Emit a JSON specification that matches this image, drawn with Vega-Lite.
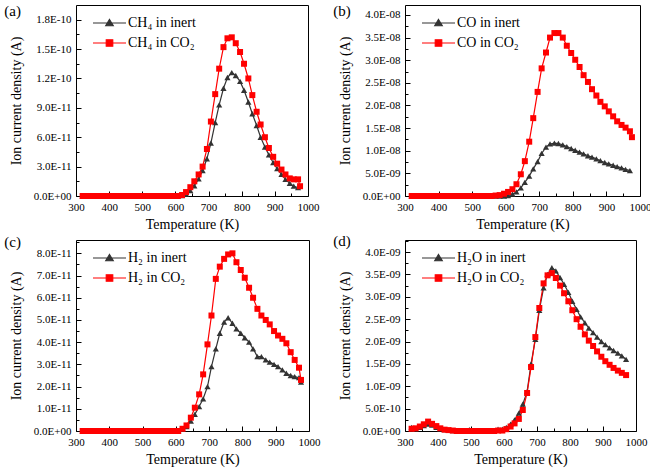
{
  "$schema": "https://vega.github.io/schema/vega-lite/v6.json",
  "padding": {"left": 3, "top": 3, "right": 5, "bottom": 5},
  "background": "white",
  "columns": 2,
  "spacing": {"row": 1, "column": 11},
  "resolve": {"scale": {"color": "independent", "x": "independent", "y": "independent"}, "legend": {"color": "independent"}},
  "config": {
    "font": "Liberation Serif",
    "style": {"guide-label": {"font": "Liberation Serif"}, "guide-title": {"font": "Liberation Serif", "fontWeight": "normal"}},
    "view": {"stroke": "#000000", "strokeWidth": 1},
    "axis": {"grid": false, "domain": false, "tickColor": "#000000", "labelColor": "#000000", "titleColor": "#000000", "labelFont": "Liberation Serif", "titleFont": "Liberation Serif", "labelFontSize": 11, "titleFontSize": 14, "titleFontWeight": "normal", "labelOverlap": false, "labelFlush": false},
    "title": {"anchor": "start", "frame": "bounds", "offset": -14, "dx": -5, "fontSize": 15, "fontWeight": "normal", "font": "Liberation Serif", "color": "#000000"},
    "legend": {"orient": "top-left", "offset": 11, "title": null, "labelFontSize": 14, "labelFont": "Liberation Serif", "labelColor": "#000000", "symbolSize": 100, "rowPadding": 6, "labelOffset": 27}
  },
  "datasets": {
    "a": [
      {"s":"inert","T":320,"v":0},{"s":"inert","T":332,"v":0},{"s":"inert","T":345,"v":0},{"s":"inert","T":357,"v":0},{"s":"inert","T":370,"v":0},{"s":"inert","T":382,"v":0},{"s":"inert","T":395,"v":0},{"s":"inert","T":407,"v":0},{"s":"inert","T":420,"v":0},{"s":"inert","T":432,"v":0},{"s":"inert","T":445,"v":0},{"s":"inert","T":457,"v":0},{"s":"inert","T":470,"v":0},{"s":"inert","T":482,"v":0},{"s":"inert","T":495,"v":0},{"s":"inert","T":507,"v":0},{"s":"inert","T":520,"v":0},{"s":"inert","T":532,"v":0},{"s":"inert","T":545,"v":0},{"s":"inert","T":557,"v":0},{"s":"inert","T":570,"v":0},{"s":"inert","T":582,"v":0},{"s":"inert","T":595,"v":0},{"s":"inert","T":607,"v":0},{"s":"inert","T":620,"v":5e-13},{"s":"inert","T":632,"v":2e-12},{"s":"inert","T":645,"v":5.5e-12},{"s":"inert","T":657,"v":1.05e-11},{"s":"inert","T":670,"v":1.75e-11},{"s":"inert","T":682,"v":2.6e-11},{"s":"inert","T":695,"v":3.8e-11},{"s":"inert","T":707,"v":5.4e-11},{"s":"inert","T":720,"v":7.5e-11},{"s":"inert","T":732,"v":9.3e-11},{"s":"inert","T":745,"v":1.1e-10},{"s":"inert","T":757,"v":1.21e-10},{"s":"inert","T":770,"v":1.26e-10},{"s":"inert","T":782,"v":1.23e-10},{"s":"inert","T":795,"v":1.17e-10},{"s":"inert","T":807,"v":1.08e-10},{"s":"inert","T":820,"v":9.6e-11},{"s":"inert","T":832,"v":8.4e-11},{"s":"inert","T":845,"v":7.2e-11},{"s":"inert","T":857,"v":6.0e-11},{"s":"inert","T":870,"v":5.0e-11},{"s":"inert","T":882,"v":4.2e-11},{"s":"inert","T":895,"v":3.4e-11},{"s":"inert","T":907,"v":2.8e-11},{"s":"inert","T":920,"v":2.2e-11},{"s":"inert","T":932,"v":1.7e-11},{"s":"inert","T":945,"v":1.3e-11},{"s":"inert","T":957,"v":1.0e-11},{"s":"inert","T":970,"v":8.5e-12},
      {"s":"CO2","T":320,"v":0},{"s":"CO2","T":332,"v":0},{"s":"CO2","T":345,"v":0},{"s":"CO2","T":357,"v":0},{"s":"CO2","T":370,"v":0},{"s":"CO2","T":382,"v":0},{"s":"CO2","T":395,"v":0},{"s":"CO2","T":407,"v":0},{"s":"CO2","T":420,"v":0},{"s":"CO2","T":432,"v":0},{"s":"CO2","T":445,"v":0},{"s":"CO2","T":457,"v":0},{"s":"CO2","T":470,"v":0},{"s":"CO2","T":482,"v":0},{"s":"CO2","T":495,"v":0},{"s":"CO2","T":507,"v":0},{"s":"CO2","T":520,"v":0},{"s":"CO2","T":532,"v":0},{"s":"CO2","T":545,"v":0},{"s":"CO2","T":557,"v":0},{"s":"CO2","T":570,"v":0},{"s":"CO2","T":582,"v":0},{"s":"CO2","T":595,"v":0},{"s":"CO2","T":607,"v":0},{"s":"CO2","T":620,"v":1e-12},{"s":"CO2","T":632,"v":4e-12},{"s":"CO2","T":645,"v":9e-12},{"s":"CO2","T":657,"v":1.5e-11},{"s":"CO2","T":670,"v":2.2e-11},{"s":"CO2","T":682,"v":3.0e-11},{"s":"CO2","T":695,"v":4.8e-11},{"s":"CO2","T":707,"v":7.6e-11},{"s":"CO2","T":720,"v":1.04e-10},{"s":"CO2","T":732,"v":1.3e-10},{"s":"CO2","T":745,"v":1.52e-10},{"s":"CO2","T":757,"v":1.61e-10},{"s":"CO2","T":770,"v":1.62e-10},{"s":"CO2","T":782,"v":1.56e-10},{"s":"CO2","T":795,"v":1.47e-10},{"s":"CO2","T":807,"v":1.35e-10},{"s":"CO2","T":820,"v":1.2e-10},{"s":"CO2","T":832,"v":1.03e-10},{"s":"CO2","T":845,"v":8.6e-11},{"s":"CO2","T":857,"v":7.3e-11},{"s":"CO2","T":870,"v":6.0e-11},{"s":"CO2","T":882,"v":4.9e-11},{"s":"CO2","T":895,"v":4.0e-11},{"s":"CO2","T":907,"v":3.3e-11},{"s":"CO2","T":920,"v":2.7e-11},{"s":"CO2","T":932,"v":2.2e-11},{"s":"CO2","T":945,"v":1.8e-11},{"s":"CO2","T":957,"v":1.7e-11},{"s":"CO2","T":970,"v":1.7e-11},{"s":"CO2","T":976,"v":1.0e-11}
    ],
    "b": [
      {"s":"inert","T":320,"v":0},{"s":"inert","T":332,"v":0},{"s":"inert","T":345,"v":0},{"s":"inert","T":357,"v":0},{"s":"inert","T":370,"v":0},{"s":"inert","T":382,"v":0},{"s":"inert","T":395,"v":0},{"s":"inert","T":407,"v":0},{"s":"inert","T":420,"v":0},{"s":"inert","T":432,"v":0},{"s":"inert","T":445,"v":0},{"s":"inert","T":457,"v":0},{"s":"inert","T":470,"v":0},{"s":"inert","T":482,"v":0},{"s":"inert","T":495,"v":0},{"s":"inert","T":507,"v":0},{"s":"inert","T":520,"v":0},{"s":"inert","T":532,"v":0},{"s":"inert","T":545,"v":0},{"s":"inert","T":557,"v":0},{"s":"inert","T":570,"v":0},{"s":"inert","T":582,"v":0},{"s":"inert","T":595,"v":0},{"s":"inert","T":607,"v":1e-10},{"s":"inert","T":620,"v":4e-10},{"s":"inert","T":632,"v":9e-10},{"s":"inert","T":645,"v":1.8e-9},{"s":"inert","T":657,"v":3.0e-9},{"s":"inert","T":670,"v":4.4e-9},{"s":"inert","T":682,"v":6.0e-9},{"s":"inert","T":695,"v":7.6e-9},{"s":"inert","T":707,"v":9.4e-9},{"s":"inert","T":720,"v":1.08e-8},{"s":"inert","T":732,"v":1.15e-8},{"s":"inert","T":745,"v":1.17e-8},{"s":"inert","T":757,"v":1.16e-8},{"s":"inert","T":770,"v":1.13e-8},{"s":"inert","T":782,"v":1.09e-8},{"s":"inert","T":795,"v":1.05e-8},{"s":"inert","T":807,"v":1.01e-8},{"s":"inert","T":820,"v":9.7e-9},{"s":"inert","T":832,"v":9.3e-9},{"s":"inert","T":845,"v":8.9e-9},{"s":"inert","T":857,"v":8.6e-9},{"s":"inert","T":870,"v":8.2e-9},{"s":"inert","T":882,"v":7.8e-9},{"s":"inert","T":895,"v":7.4e-9},{"s":"inert","T":907,"v":7.1e-9},{"s":"inert","T":920,"v":6.8e-9},{"s":"inert","T":932,"v":6.5e-9},{"s":"inert","T":945,"v":6.2e-9},{"s":"inert","T":957,"v":5.9e-9},{"s":"inert","T":970,"v":5.6e-9},
      {"s":"CO2","T":320,"v":0},{"s":"CO2","T":332,"v":0},{"s":"CO2","T":345,"v":0},{"s":"CO2","T":357,"v":0},{"s":"CO2","T":370,"v":0},{"s":"CO2","T":382,"v":0},{"s":"CO2","T":395,"v":0},{"s":"CO2","T":407,"v":0},{"s":"CO2","T":420,"v":0},{"s":"CO2","T":432,"v":0},{"s":"CO2","T":445,"v":0},{"s":"CO2","T":457,"v":0},{"s":"CO2","T":470,"v":0},{"s":"CO2","T":482,"v":0},{"s":"CO2","T":495,"v":0},{"s":"CO2","T":507,"v":0},{"s":"CO2","T":520,"v":0},{"s":"CO2","T":532,"v":0},{"s":"CO2","T":545,"v":0},{"s":"CO2","T":557,"v":0},{"s":"CO2","T":570,"v":1e-10},{"s":"CO2","T":582,"v":2e-10},{"s":"CO2","T":595,"v":5e-10},{"s":"CO2","T":607,"v":9e-10},{"s":"CO2","T":620,"v":1.5e-9},{"s":"CO2","T":632,"v":2.6e-9},{"s":"CO2","T":645,"v":4.8e-9},{"s":"CO2","T":657,"v":7.7e-9},{"s":"CO2","T":670,"v":1.2e-8},{"s":"CO2","T":682,"v":1.72e-8},{"s":"CO2","T":695,"v":2.3e-8},{"s":"CO2","T":707,"v":2.82e-8},{"s":"CO2","T":720,"v":3.17e-8},{"s":"CO2","T":732,"v":3.5e-8},{"s":"CO2","T":745,"v":3.6e-8},{"s":"CO2","T":757,"v":3.6e-8},{"s":"CO2","T":770,"v":3.5e-8},{"s":"CO2","T":782,"v":3.32e-8},{"s":"CO2","T":795,"v":3.16e-8},{"s":"CO2","T":807,"v":3.01e-8},{"s":"CO2","T":820,"v":2.85e-8},{"s":"CO2","T":832,"v":2.67e-8},{"s":"CO2","T":845,"v":2.52e-8},{"s":"CO2","T":857,"v":2.36e-8},{"s":"CO2","T":870,"v":2.22e-8},{"s":"CO2","T":882,"v":2.08e-8},{"s":"CO2","T":895,"v":1.98e-8},{"s":"CO2","T":907,"v":1.87e-8},{"s":"CO2","T":920,"v":1.76e-8},{"s":"CO2","T":932,"v":1.65e-8},{"s":"CO2","T":945,"v":1.57e-8},{"s":"CO2","T":957,"v":1.51e-8},{"s":"CO2","T":970,"v":1.43e-8},{"s":"CO2","T":976,"v":1.3e-8}
    ],
    "c": [
      {"s":"inert","T":320,"v":0},{"s":"inert","T":332,"v":0},{"s":"inert","T":345,"v":0},{"s":"inert","T":357,"v":0},{"s":"inert","T":370,"v":0},{"s":"inert","T":382,"v":0},{"s":"inert","T":395,"v":0},{"s":"inert","T":407,"v":0},{"s":"inert","T":420,"v":0},{"s":"inert","T":432,"v":0},{"s":"inert","T":445,"v":0},{"s":"inert","T":457,"v":0},{"s":"inert","T":470,"v":0},{"s":"inert","T":482,"v":0},{"s":"inert","T":495,"v":0},{"s":"inert","T":507,"v":0},{"s":"inert","T":520,"v":0},{"s":"inert","T":532,"v":0},{"s":"inert","T":545,"v":0},{"s":"inert","T":557,"v":0},{"s":"inert","T":570,"v":0},{"s":"inert","T":582,"v":0},{"s":"inert","T":595,"v":0},{"s":"inert","T":607,"v":0},{"s":"inert","T":620,"v":1e-12},{"s":"inert","T":632,"v":2e-12},{"s":"inert","T":645,"v":4.5e-12},{"s":"inert","T":657,"v":7.5e-12},{"s":"inert","T":670,"v":1.1e-11},{"s":"inert","T":682,"v":1.45e-11},{"s":"inert","T":695,"v":2.0e-11},{"s":"inert","T":707,"v":2.9e-11},{"s":"inert","T":720,"v":3.7e-11},{"s":"inert","T":732,"v":4.4e-11},{"s":"inert","T":745,"v":4.9e-11},{"s":"inert","T":757,"v":5.1e-11},{"s":"inert","T":770,"v":4.85e-11},{"s":"inert","T":782,"v":4.6e-11},{"s":"inert","T":795,"v":4.4e-11},{"s":"inert","T":807,"v":4.2e-11},{"s":"inert","T":820,"v":4.0e-11},{"s":"inert","T":832,"v":3.7e-11},{"s":"inert","T":845,"v":3.35e-11},{"s":"inert","T":857,"v":3.35e-11},{"s":"inert","T":870,"v":3.2e-11},{"s":"inert","T":882,"v":3.1e-11},{"s":"inert","T":895,"v":3.0e-11},{"s":"inert","T":907,"v":2.9e-11},{"s":"inert","T":920,"v":2.75e-11},{"s":"inert","T":932,"v":2.6e-11},{"s":"inert","T":945,"v":2.5e-11},{"s":"inert","T":957,"v":2.45e-11},{"s":"inert","T":970,"v":2.4e-11},{"s":"inert","T":976,"v":2.2e-11},
      {"s":"CO2","T":320,"v":0},{"s":"CO2","T":332,"v":0},{"s":"CO2","T":345,"v":0},{"s":"CO2","T":357,"v":0},{"s":"CO2","T":370,"v":0},{"s":"CO2","T":382,"v":0},{"s":"CO2","T":395,"v":0},{"s":"CO2","T":407,"v":0},{"s":"CO2","T":420,"v":0},{"s":"CO2","T":432,"v":0},{"s":"CO2","T":445,"v":0},{"s":"CO2","T":457,"v":0},{"s":"CO2","T":470,"v":0},{"s":"CO2","T":482,"v":0},{"s":"CO2","T":495,"v":0},{"s":"CO2","T":507,"v":0},{"s":"CO2","T":520,"v":0},{"s":"CO2","T":532,"v":0},{"s":"CO2","T":545,"v":0},{"s":"CO2","T":557,"v":0},{"s":"CO2","T":570,"v":0},{"s":"CO2","T":582,"v":0},{"s":"CO2","T":595,"v":0},{"s":"CO2","T":607,"v":0},{"s":"CO2","T":620,"v":1e-12},{"s":"CO2","T":632,"v":2.5e-12},{"s":"CO2","T":645,"v":6e-12},{"s":"CO2","T":657,"v":1.05e-11},{"s":"CO2","T":670,"v":1.65e-11},{"s":"CO2","T":682,"v":2.55e-11},{"s":"CO2","T":695,"v":3.9e-11},{"s":"CO2","T":707,"v":5.2e-11},{"s":"CO2","T":720,"v":6.85e-11},{"s":"CO2","T":732,"v":7.4e-11},{"s":"CO2","T":745,"v":7.75e-11},{"s":"CO2","T":757,"v":7.95e-11},{"s":"CO2","T":770,"v":8.0e-11},{"s":"CO2","T":782,"v":7.6e-11},{"s":"CO2","T":795,"v":7.25e-11},{"s":"CO2","T":807,"v":6.9e-11},{"s":"CO2","T":820,"v":6.45e-11},{"s":"CO2","T":832,"v":6.0e-11},{"s":"CO2","T":845,"v":5.5e-11},{"s":"CO2","T":857,"v":5.2e-11},{"s":"CO2","T":870,"v":5.0e-11},{"s":"CO2","T":882,"v":4.8e-11},{"s":"CO2","T":895,"v":4.5e-11},{"s":"CO2","T":907,"v":4.3e-11},{"s":"CO2","T":920,"v":4.15e-11},{"s":"CO2","T":932,"v":3.95e-11},{"s":"CO2","T":945,"v":3.55e-11},{"s":"CO2","T":957,"v":3.2e-11},{"s":"CO2","T":970,"v":2.85e-11},{"s":"CO2","T":976,"v":2.3e-11}
    ],
    "d": [
      {"s":"inert","T":320,"v":8e-11},{"s":"inert","T":332,"v":5e-11},{"s":"inert","T":345,"v":8e-11},{"s":"inert","T":357,"v":1.2e-10},{"s":"inert","T":370,"v":1.55e-10},{"s":"inert","T":382,"v":1.3e-10},{"s":"inert","T":395,"v":8e-11},{"s":"inert","T":407,"v":5e-11},{"s":"inert","T":420,"v":3e-11},{"s":"inert","T":432,"v":2e-11},{"s":"inert","T":445,"v":1e-11},{"s":"inert","T":457,"v":0},{"s":"inert","T":470,"v":0},{"s":"inert","T":482,"v":0},{"s":"inert","T":495,"v":3e-11},{"s":"inert","T":507,"v":0},{"s":"inert","T":520,"v":0},{"s":"inert","T":532,"v":0},{"s":"inert","T":545,"v":0},{"s":"inert","T":557,"v":0},{"s":"inert","T":570,"v":1e-11},{"s":"inert","T":582,"v":4e-11},{"s":"inert","T":595,"v":4e-11},{"s":"inert","T":607,"v":8e-11},{"s":"inert","T":620,"v":1.5e-10},{"s":"inert","T":632,"v":2.5e-10},{"s":"inert","T":645,"v":4e-10},{"s":"inert","T":657,"v":6e-10},{"s":"inert","T":670,"v":8.8e-10},{"s":"inert","T":682,"v":1.5e-9},{"s":"inert","T":695,"v":2.05e-9},{"s":"inert","T":707,"v":2.7e-9},{"s":"inert","T":720,"v":3.2e-9},{"s":"inert","T":732,"v":3.5e-9},{"s":"inert","T":745,"v":3.65e-9},{"s":"inert","T":757,"v":3.58e-9},{"s":"inert","T":770,"v":3.43e-9},{"s":"inert","T":782,"v":3.28e-9},{"s":"inert","T":795,"v":3.1e-9},{"s":"inert","T":807,"v":2.9e-9},{"s":"inert","T":820,"v":2.72e-9},{"s":"inert","T":832,"v":2.55e-9},{"s":"inert","T":845,"v":2.42e-9},{"s":"inert","T":857,"v":2.3e-9},{"s":"inert","T":870,"v":2.2e-9},{"s":"inert","T":882,"v":2.1e-9},{"s":"inert","T":895,"v":2.0e-9},{"s":"inert","T":907,"v":1.93e-9},{"s":"inert","T":920,"v":1.86e-9},{"s":"inert","T":932,"v":1.8e-9},{"s":"inert","T":945,"v":1.74e-9},{"s":"inert","T":957,"v":1.68e-9},{"s":"inert","T":970,"v":1.6e-9},
      {"s":"CO2","T":320,"v":5e-11},{"s":"CO2","T":332,"v":6e-11},{"s":"CO2","T":345,"v":1e-10},{"s":"CO2","T":357,"v":1.5e-10},{"s":"CO2","T":370,"v":2.1e-10},{"s":"CO2","T":382,"v":1.6e-10},{"s":"CO2","T":395,"v":1.1e-10},{"s":"CO2","T":407,"v":6e-11},{"s":"CO2","T":420,"v":3e-11},{"s":"CO2","T":432,"v":2e-11},{"s":"CO2","T":445,"v":1e-11},{"s":"CO2","T":457,"v":0},{"s":"CO2","T":470,"v":0},{"s":"CO2","T":482,"v":0},{"s":"CO2","T":495,"v":0},{"s":"CO2","T":507,"v":0},{"s":"CO2","T":520,"v":0},{"s":"CO2","T":532,"v":0},{"s":"CO2","T":545,"v":0},{"s":"CO2","T":557,"v":0},{"s":"CO2","T":570,"v":0},{"s":"CO2","T":582,"v":1e-11},{"s":"CO2","T":595,"v":1e-11},{"s":"CO2","T":607,"v":4e-11},{"s":"CO2","T":620,"v":1.0e-10},{"s":"CO2","T":632,"v":1.7e-10},{"s":"CO2","T":645,"v":2.7e-10},{"s":"CO2","T":657,"v":4.7e-10},{"s":"CO2","T":670,"v":8.5e-10},{"s":"CO2","T":682,"v":1.43e-9},{"s":"CO2","T":695,"v":2.1e-9},{"s":"CO2","T":707,"v":2.75e-9},{"s":"CO2","T":720,"v":3.3e-9},{"s":"CO2","T":732,"v":3.48e-9},{"s":"CO2","T":745,"v":3.53e-9},{"s":"CO2","T":757,"v":3.42e-9},{"s":"CO2","T":770,"v":3.25e-9},{"s":"CO2","T":782,"v":3.08e-9},{"s":"CO2","T":795,"v":2.9e-9},{"s":"CO2","T":807,"v":2.7e-9},{"s":"CO2","T":820,"v":2.5e-9},{"s":"CO2","T":832,"v":2.33e-9},{"s":"CO2","T":845,"v":2.16e-9},{"s":"CO2","T":857,"v":2.02e-9},{"s":"CO2","T":870,"v":1.9e-9},{"s":"CO2","T":882,"v":1.78e-9},{"s":"CO2","T":895,"v":1.66e-9},{"s":"CO2","T":907,"v":1.56e-9},{"s":"CO2","T":920,"v":1.48e-9},{"s":"CO2","T":932,"v":1.41e-9},{"s":"CO2","T":945,"v":1.35e-9},{"s":"CO2","T":957,"v":1.3e-9},{"s":"CO2","T":970,"v":1.25e-9}
    ]
  },
  "concat": [
    {
      "width": 232, "height": 191, "title": "(a)", "data": {"name": "a"},
      "encoding": {
        "x": {"field": "T", "type": "quantitative", "scale": {"domain": [300, 1000], "nice": false, "zero": false},
          "axis": {"title": "Temperature (K)", "labelFont": "Liberation Serif", "titleFont": "Liberation Serif", "format": "d", "values": [300,350,400,450,500,550,600,650,700,750,800,850,900,950,1000], "labelExpr": "datum.value % 100 === 0 ? datum.label : ''", "tickSize": {"condition": {"test": "datum.value % 100 === 0", "value": -5}, "value": -3}, "labelPadding": 10, "titlePadding": 3}},
        "y": {"field": "v", "type": "quantitative", "scale": {"domain": [0, 1.95e-10], "nice": false},
          "axis": {"title": "Ion current density (A)", "labelFont": "Liberation Serif", "titleFont": "Liberation Serif", "values": [0,1.5e-11,3e-11,4.5e-11,6e-11,7.5e-11,9e-11,1.05e-10,1.2e-10,1.35e-10,1.5e-10,1.65e-10,1.8e-10], "labelExpr": "abs(datum.value/3e-11 - round(datum.value/3e-11)) < 0.01 ? replace(replace(format(datum.value, '.1e'), regexp('e(?<s>[+-])(?<d>[0-9])$'), 'E$<s>0$<d>'), 'e', 'E') : ''", "tickSize": {"condition": {"test": "abs(datum.value/3e-11 - round(datum.value/3e-11)) < 0.01", "value": -5}, "value": -3}, "labelPadding": 10, "titlePadding": 10}},
        "color": {"field": "s", "type": "nominal", "scale": {"domain": ["inert", "CO2"], "range": ["#333333", "#ff0000"]},
          "legend": {"labelExpr": "datum.label === 'inert' ? 'CH₄ in inert' : 'CH₄ in CO₂'", "encode": {"symbols": {"update": {"shape": {"signal": "datum.value === 'inert' ? 'M-0.2,0H6.4M3.1,-0.7L3.85,0.55L2.35,0.55Z' : 'M-0.2,0H6.4M2.45,-0.65H3.75V0.65H2.45Z'"}, "fill": {"signal": "datum.value === 'inert' ? '#333333' : '#ff0000'"}, "stroke": {"signal": "datum.value === 'inert' ? '#333333' : '#ff0000'"}, "strokeWidth": {"value": 1.2}, "size": {"value": 100}, "opacity": {"value": 1}, "fillOpacity": {"value": 1}}}}}}
      },
      "layer": [
        {"mark": {"type": "line", "strokeWidth": 1.2}},
        {"transform": [{"filter": "datum.s === 'inert'"}], "mark": {"type": "point", "shape": "triangle-up", "filled": true, "size": 38, "opacity": 1}},
        {"transform": [{"filter": "datum.s === 'CO2'"}], "mark": {"type": "point", "shape": "square", "filled": true, "size": 36, "opacity": 1}}
      ]
    },
    {
      "width": 235, "height": 191, "title": "(b)", "data": {"name": "b"},
      "encoding": {
        "x": {"field": "T", "type": "quantitative", "scale": {"domain": [300, 1000], "nice": false, "zero": false},
          "axis": {"title": "Temperature (K)", "labelFont": "Liberation Serif", "titleFont": "Liberation Serif", "format": "d", "values": [300,350,400,450,500,550,600,650,700,750,800,850,900,950,1000], "labelExpr": "datum.value % 100 === 0 ? datum.label : ''", "tickSize": {"condition": {"test": "datum.value % 100 === 0", "value": -5}, "value": -3}, "labelPadding": 10, "titlePadding": 3}},
        "y": {"field": "v", "type": "quantitative", "scale": {"domain": [0, 4.22e-8], "nice": false},
          "axis": {"title": "Ion current density (A)", "labelFont": "Liberation Serif", "titleFont": "Liberation Serif", "values": [0,2.5e-9,5e-9,7.5e-9,1e-8,1.25e-8,1.5e-8,1.75e-8,2e-8,2.25e-8,2.5e-8,2.75e-8,3e-8,3.25e-8,3.5e-8,3.75e-8,4e-8], "labelExpr": "abs(datum.value/5e-9 - round(datum.value/5e-9)) < 0.01 ? replace(replace(format(datum.value, '.1e'), regexp('e(?<s>[+-])(?<d>[0-9])$'), 'E$<s>0$<d>'), 'e', 'E') : ''", "tickSize": {"condition": {"test": "abs(datum.value/5e-9 - round(datum.value/5e-9)) < 0.01", "value": -5}, "value": -3}, "labelPadding": 10, "titlePadding": 10}},
        "color": {"field": "s", "type": "nominal", "scale": {"domain": ["inert", "CO2"], "range": ["#333333", "#ff0000"]},
          "legend": {"labelExpr": "datum.label === 'inert' ? 'CO in inert' : 'CO in CO₂'", "encode": {"symbols": {"update": {"shape": {"signal": "datum.value === 'inert' ? 'M-0.2,0H6.4M3.1,-0.7L3.85,0.55L2.35,0.55Z' : 'M-0.2,0H6.4M2.45,-0.65H3.75V0.65H2.45Z'"}, "fill": {"signal": "datum.value === 'inert' ? '#333333' : '#ff0000'"}, "stroke": {"signal": "datum.value === 'inert' ? '#333333' : '#ff0000'"}, "strokeWidth": {"value": 1.2}, "size": {"value": 100}, "opacity": {"value": 1}, "fillOpacity": {"value": 1}}}}}}
      },
      "layer": [
        {"mark": {"type": "line", "strokeWidth": 1.2}},
        {"transform": [{"filter": "datum.s === 'inert'"}], "mark": {"type": "point", "shape": "triangle-up", "filled": true, "size": 38, "opacity": 1}},
        {"transform": [{"filter": "datum.s === 'CO2'"}], "mark": {"type": "point", "shape": "square", "filled": true, "size": 36, "opacity": 1}}
      ]
    },
    {
      "width": 233, "height": 191, "title": "(c)", "data": {"name": "c"},
      "encoding": {
        "x": {"field": "T", "type": "quantitative", "scale": {"domain": [300, 1000], "nice": false, "zero": false},
          "axis": {"title": "Temperature (K)", "labelFont": "Liberation Serif", "titleFont": "Liberation Serif", "format": "d", "values": [300,350,400,450,500,550,600,650,700,750,800,850,900,950,1000], "labelExpr": "datum.value % 100 === 0 ? datum.label : ''", "tickSize": {"condition": {"test": "datum.value % 100 === 0", "value": -5}, "value": -3}, "labelPadding": 10, "titlePadding": 3}},
        "y": {"field": "v", "type": "quantitative", "scale": {"domain": [0, 8.6e-11], "nice": false},
          "axis": {"title": "Ion current density (A)", "labelFont": "Liberation Serif", "titleFont": "Liberation Serif", "values": [0,5e-12,1e-11,1.5e-11,2e-11,2.5e-11,3e-11,3.5e-11,4e-11,4.5e-11,5e-11,5.5e-11,6e-11,6.5e-11,7e-11,7.5e-11,8e-11,8.5e-11], "labelExpr": "abs(datum.value/1e-11 - round(datum.value/1e-11)) < 0.01 ? replace(replace(format(datum.value, '.1e'), regexp('e(?<s>[+-])(?<d>[0-9])$'), 'E$<s>0$<d>'), 'e', 'E') : ''", "tickSize": {"condition": {"test": "abs(datum.value/1e-11 - round(datum.value/1e-11)) < 0.01", "value": -5}, "value": -3}, "labelPadding": 10, "titlePadding": 10}},
        "color": {"field": "s", "type": "nominal", "scale": {"domain": ["inert", "CO2"], "range": ["#333333", "#ff0000"]},
          "legend": {"labelExpr": "datum.label === 'inert' ? 'H₂ in inert' : 'H₂ in CO₂'", "encode": {"symbols": {"update": {"shape": {"signal": "datum.value === 'inert' ? 'M-0.2,0H6.4M3.1,-0.7L3.85,0.55L2.35,0.55Z' : 'M-0.2,0H6.4M2.45,-0.65H3.75V0.65H2.45Z'"}, "fill": {"signal": "datum.value === 'inert' ? '#333333' : '#ff0000'"}, "stroke": {"signal": "datum.value === 'inert' ? '#333333' : '#ff0000'"}, "strokeWidth": {"value": 1.2}, "size": {"value": 100}, "opacity": {"value": 1}, "fillOpacity": {"value": 1}}}}}}
      },
      "layer": [
        {"mark": {"type": "line", "strokeWidth": 1.2}},
        {"transform": [{"filter": "datum.s === 'inert'"}], "mark": {"type": "point", "shape": "triangle-up", "filled": true, "size": 38, "opacity": 1}},
        {"transform": [{"filter": "datum.s === 'CO2'"}], "mark": {"type": "point", "shape": "square", "filled": true, "size": 36, "opacity": 1}}
      ]
    },
    {
      "width": 231, "height": 191, "title": "(d)", "data": {"name": "d"},
      "encoding": {
        "x": {"field": "T", "type": "quantitative", "scale": {"domain": [300, 1000], "nice": false, "zero": false},
          "axis": {"title": "Temperature (K)", "labelFont": "Liberation Serif", "titleFont": "Liberation Serif", "format": "d", "values": [300,350,400,450,500,550,600,650,700,750,800,850,900,950,1000], "labelExpr": "datum.value % 100 === 0 ? datum.label : ''", "tickSize": {"condition": {"test": "datum.value % 100 === 0", "value": -5}, "value": -3}, "labelPadding": 10, "titlePadding": 3}},
        "y": {"field": "v", "type": "quantitative", "scale": {"domain": [0, 4.27e-9], "nice": false},
          "axis": {"title": "Ion current density (A)", "labelFont": "Liberation Serif", "titleFont": "Liberation Serif", "values": [0,2.5e-10,5e-10,7.5e-10,1e-9,1.25e-9,1.5e-9,1.75e-9,2e-9,2.25e-9,2.5e-9,2.75e-9,3e-9,3.25e-9,3.5e-9,3.75e-9,4e-9,4.25e-9], "labelExpr": "abs(datum.value/5e-10 - round(datum.value/5e-10)) < 0.01 ? replace(replace(format(datum.value, '.1e'), regexp('e(?<s>[+-])(?<d>[0-9])$'), 'E$<s>0$<d>'), 'e', 'E') : ''", "tickSize": {"condition": {"test": "abs(datum.value/5e-10 - round(datum.value/5e-10)) < 0.01", "value": -5}, "value": -3}, "labelPadding": 10, "titlePadding": 10}},
        "color": {"field": "s", "type": "nominal", "scale": {"domain": ["inert", "CO2"], "range": ["#333333", "#ff0000"]},
          "legend": {"labelExpr": "datum.label === 'inert' ? 'H₂O in inert' : 'H₂O in CO₂'", "encode": {"symbols": {"update": {"shape": {"signal": "datum.value === 'inert' ? 'M-0.2,0H6.4M3.1,-0.7L3.85,0.55L2.35,0.55Z' : 'M-0.2,0H6.4M2.45,-0.65H3.75V0.65H2.45Z'"}, "fill": {"signal": "datum.value === 'inert' ? '#333333' : '#ff0000'"}, "stroke": {"signal": "datum.value === 'inert' ? '#333333' : '#ff0000'"}, "strokeWidth": {"value": 1.2}, "size": {"value": 100}, "opacity": {"value": 1}, "fillOpacity": {"value": 1}}}}}}
      },
      "layer": [
        {"mark": {"type": "line", "strokeWidth": 1.2}},
        {"transform": [{"filter": "datum.s === 'inert'"}], "mark": {"type": "point", "shape": "triangle-up", "filled": true, "size": 38, "opacity": 1}},
        {"transform": [{"filter": "datum.s === 'CO2'"}], "mark": {"type": "point", "shape": "square", "filled": true, "size": 36, "opacity": 1}}
      ]
    }
  ]
}
